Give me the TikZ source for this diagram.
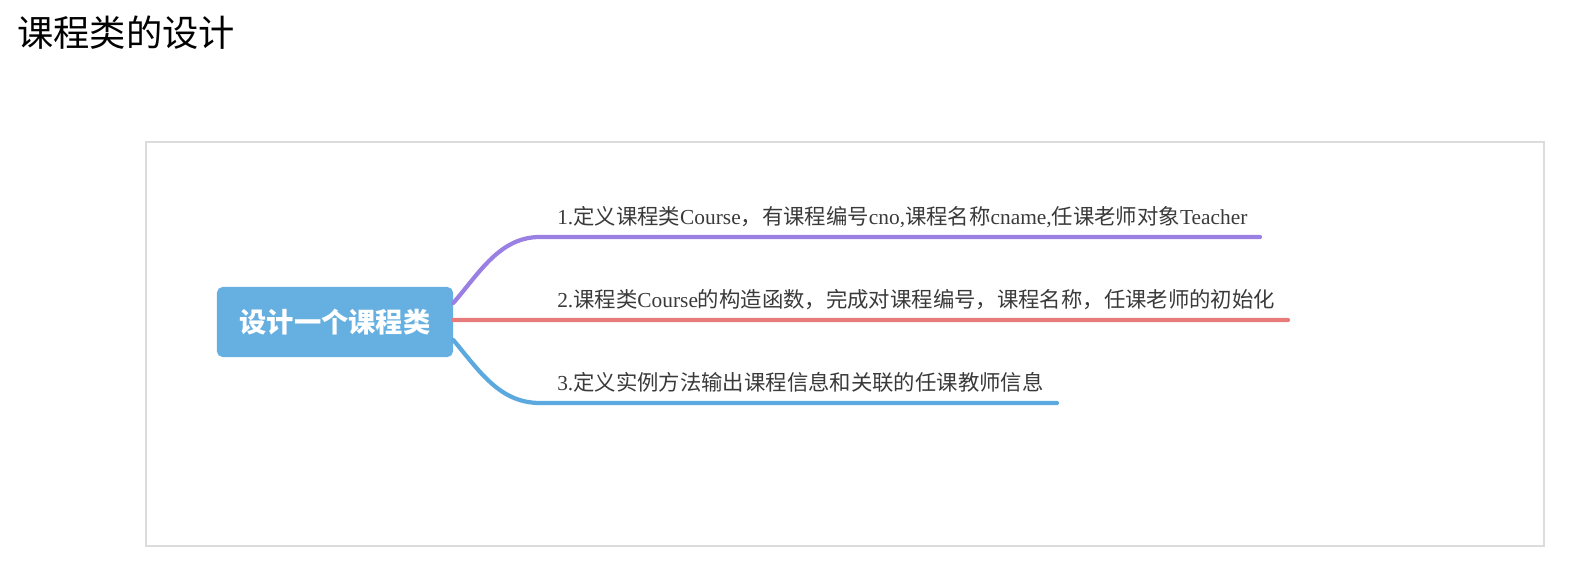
\documentclass[tikz,border=0pt]{standalone}
\usepackage{fontspec}
\setmainfont{Liberation Serif}
\newfontfamily\cjk{Noto Sans CJK SC}
\usetikzlibrary{positioning}
\definecolor{MapBlue}{HTML}{66AFE1}
\definecolor{LinePurple}{HTML}{9B80E3}
\definecolor{LineRed}{HTML}{E77B7B}
\definecolor{LineBlue}{HTML}{5BA9DF}
\definecolor{FrameLine}{HTML}{DCDCDC}
\definecolor{TopicText}{HTML}{3A3A3A}
\newcommand{\zh}[1]{{\cjk #1}}

\begin{document}
\begin{tikzpicture}[x=0.025cm,y=-0.025cm]
    \tikzset{hub/.style={rounded corners=4pt,fill=MapBlue,text=white,minimum width=5.9cm,
      minimum height=1.75cm,font=\cjk\bfseries\fontsize{19.4}{22}\selectfont},
      topic/.style={anchor=base west,inner sep=0pt,text=TopicText,font=\fontsize{15.2}{18}\selectfont},
      branch/.style={line width=3pt,line cap=round}}
    \useasboundingbox (0,0) rectangle (1576,584);
    \node[anchor=west,inner sep=0pt,font=\cjk\fontsize{25.8}{30}\selectfont] (title) at (17,33) {课程类的设计};
    \draw[FrameLine,line width=1pt] (146,142) rectangle (1544,546);
    \node[hub] (hub) at (335,322) {设计一个课程类};
    % branch ends
    \coordinate (b1) at (540,237);
    \coordinate (e1) at (1260,237);
    \coordinate (e2) at (1288,320);
    \coordinate (b3) at (540,403);
    \coordinate (e3) at (1057,403);
    \node[topic] (t1) at (557,224) {1.\zh{定义课程类}Course\zh{，有课程编号}cno,\zh{课程名称}cname,\zh{任课老师对象}Teacher};
    \node[topic] (t2) at (557,307) {2.\zh{课程类}Course\zh{的构造函数，完成对课程编号，课程名称，任课老师的初始化}};
    \node[topic] (t3) at (557,390) {3.\zh{定义实例方法输出课程信息和关联的任课教师信息}};
    \draw[branch,LinePurple] ([yshift=0.475cm]hub.east) .. controls (480,272) and (500,237) .. (b1) -- (e1);
    \draw[branch,LineRed] ([yshift=0.05cm]hub.east) -- (e2);
    \draw[branch,LineBlue] ([yshift=-0.45cm]hub.east) .. controls (480,372) and (500,403) .. (b3) -- (e3);
  \end{tikzpicture}
\end{document}
